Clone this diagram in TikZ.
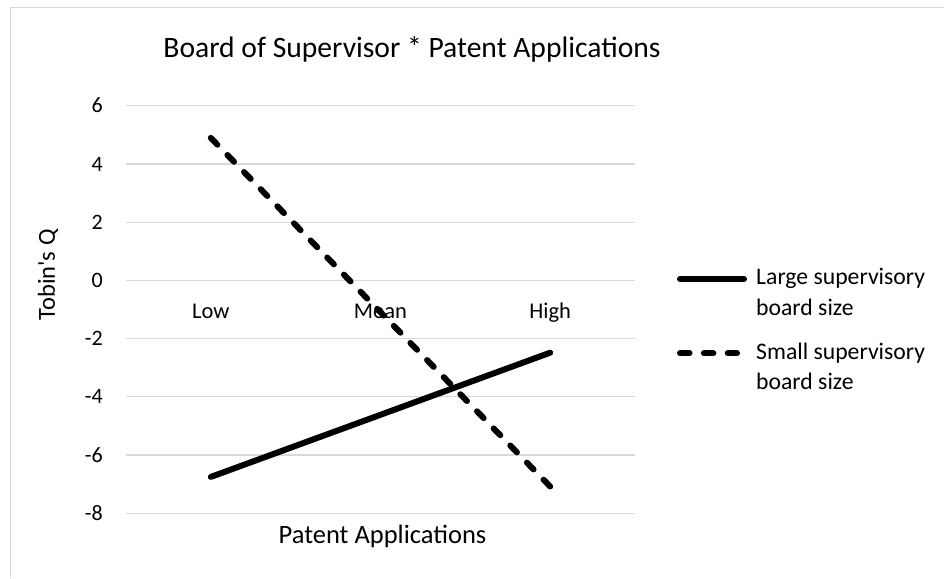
\documentclass[tikz,border=0pt]{standalone}
\usepackage{fontspec}
\setmainfont{Carlito}
\definecolor{gridgray}{HTML}{D9D9D9}

\begin{document}
\begin{tikzpicture}[x=1pt,y=1pt,
  gridline/.style={color=gridgray,line width=1.2pt},
  ticklab/.style={anchor=base east,inner sep=0pt,font=\fontsize{22}{26}\selectfont},
  catlab/.style={anchor=base,inner sep=0pt,font=\fontsize{22.5}{27}\selectfont},
  axtitle/.style={inner sep=0pt,font=\fontsize{26.5}{32}\selectfont},
  legtext/.style={anchor=base west,inner sep=0pt,font=\fontsize{23.7}{31}\selectfont},
  large/.style={line width=6pt,line cap=round},
  small/.style={line width=6pt,line cap=round,dash pattern=on 9.5pt off 14.35pt}]
%\draw[color=gray!20] (0,0) grid[step=50] (944,578);
\useasboundingbox[fill=white] (0,0) rectangle (944,578);

\draw[color=gridgray,line width=1.5pt] (10.5,0) -- (10.5,570.5) -- (944,570.5);

\node[anchor=base,inner sep=0pt,font=\fontsize{29.6}{36}\selectfont] (title)
  at (412,520.7) {Board of Supervisor * Patent Applications};

% plot area, one unit = one category / one point of Tobin's Q
\begin{scope}[shift={(41.1pt,297.5pt)},x=169.7pt,y=29.1pt]
 \foreach \v [count=\i] in {-8,-6,...,6} {
  \draw[gridline] (0.5,\v) -- (3.5,\v);
  \node[ticklab] (tick\i) at (0.5,\v) [xshift=-23pt,yshift=-7pt] {\v};
 }
 \foreach \c [count=\i] in {Low,Mean,High}
  \node[catlab] (cat\i) at (\i,0) [yshift=-37.8pt] {\c};

 \draw[large] (1,-6.75) -- (3,-2.48);
 \draw[small] (1,4.9) -- (3,-7.08);
\end{scope}

\node[axtitle,anchor=base] (xtitle) at (382.5,35) {Patent Applications};
\node[axtitle,rotate=90,font=\fontsize{24.5}{30}\selectfont] (ytitle)
  at (48,303) {Tobin\textquotesingle s Q};

% legend
\draw[large] (680,299) -- (744,299);
\node[legtext] (leg1a) at (756,293) {Large supervisory};
\node[legtext] (leg1b) at (756,262) {board size};

\draw[small] (680,224.7) -- (737,224.7);
\node[legtext] (leg2a) at (756,218) {Small supervisory};
\node[legtext] (leg2b) at (756,188) {board size};
\end{tikzpicture}
\end{document}
